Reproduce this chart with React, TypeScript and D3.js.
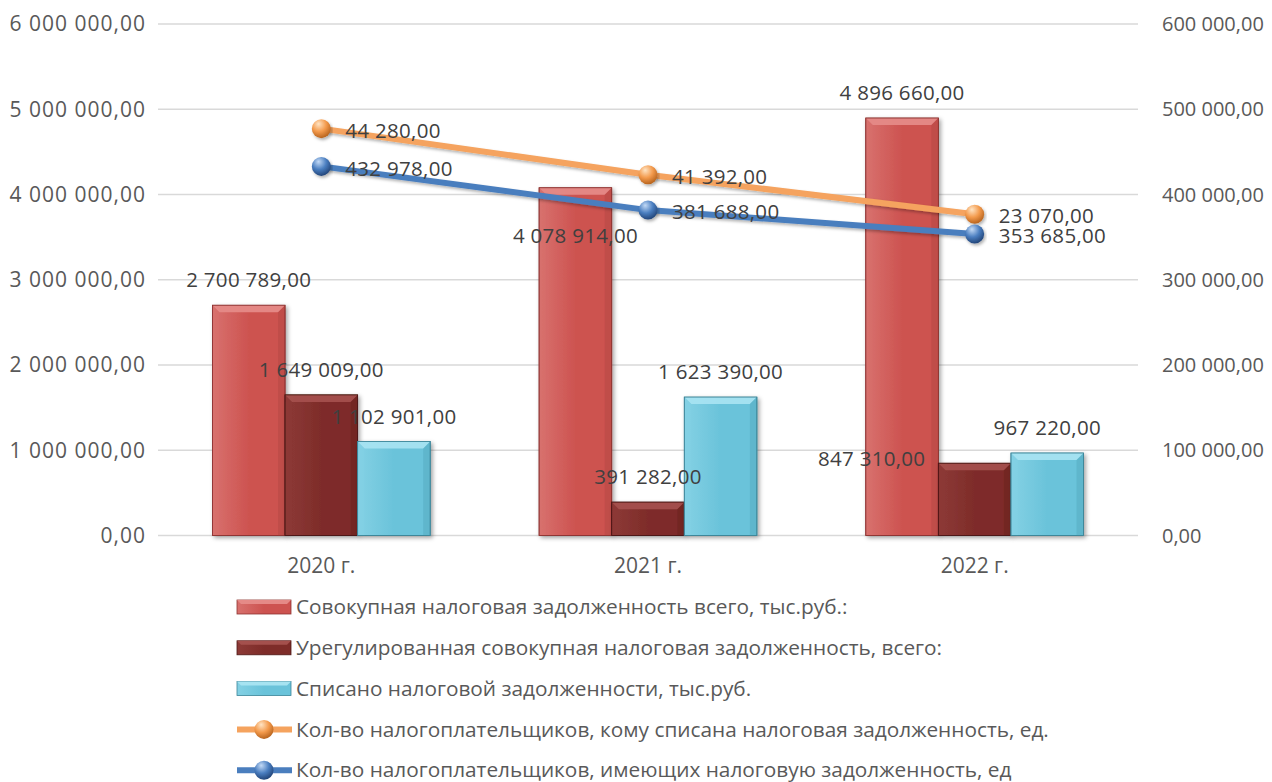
import React from 'react';
import * as d3 from 'd3';

const categories = ['2020 г.', '2021 г.', '2022 г.'];
const totalDebt = [2700789, 4078914, 4896660];
const settledDebt = [1649009, 391282, 847310];
const writtenOffDebt = [1102901, 1623390, 967220];
const taxpayersWithDebt = [432978, 381688, 353685];
const taxpayersWrittenOff = [44280, 41392, 23070];
const leftTicks = [0, 1000000, 2000000, 3000000, 4000000, 5000000, 6000000];
const rightTicks = [0, 100000, 200000, 300000, 400000, 500000, 600000];

const barNames = [
  'Совокупная налоговая задолженность всего, тыс.руб.:',
  'Урегулированная совокупная налоговая задолженность, всего:',
  'Списано налоговой задолженности, тыс.руб.',
];
const lineNames = [
  'Кол-во налогоплательщиков, кому списана налоговая задолженность, ед.',
  'Кол-во налогоплательщиков, имеющих налоговую задолженность, ед',
];

const W = 1272;
const H = 782;
const plot = { left: 158, right: 1138, top: 24, bottom: 535.5 };

const barStyles = [
  { id: 'red', top: '#E58A87', light: '#D8716E', base: '#CD5350', dark: '#A94340', stroke: '#8E3431' },
  { id: 'maroon', top: '#A4504D', light: '#8D3A37', base: '#7E2C29', dark: '#5E1D1B', stroke: '#4D1715' },
  { id: 'cyan', top: '#A6E3F1', light: '#84D1E4', base: '#6AC3DA', dark: '#4A9DB3', stroke: '#3C8598' },
];
const lineStyles = [
  { id: 'orange', color: '#F5A35E', hi: '#FFE4C4', base: '#F39A4C', dark: '#B8641E' },
  { id: 'blue', color: '#4A7EBE', hi: '#C3DAF6', base: '#4A7EC0', dark: '#23467A' },
];

// bar label offsets (dx, dy relative to default position above bar)
const barLabelShift: Record<string, [number, number]> = {
  '0-1': [0, 73],
  '1-2': [-103, 21],
};

const locale = d3.formatLocale({ decimal: ',', thousands: '\u00a0', grouping: [3], currency: ['', ''] });
const fmt = locale.format(',.2f');

const FONT = "'Open Sans', 'Noto Sans', sans-serif";

function Bar({ x, y, w, h, s }: any) {
  const b = Math.min(7, h / 2);
  return (
    <g filter="url(#shadow)">
      <rect x={x} y={y} width={w} height={h} fill={`url(#grad-${s.id})`} stroke={s.stroke} strokeWidth={0.8} />
      <polygon
        points={`${x},${y} ${x + w},${y} ${x + w - b},${y + b} ${x + b},${y + b}`}
        fill={s.top}
        opacity={0.95}
      />
      <polygon points={`${x},${y} ${x + b},${y + b} ${x + b},${y + h} ${x},${y + h}`} fill={s.light} opacity={0.35} />
      <polygon points={`${x + w},${y} ${x + w - b},${y + b} ${x + w - b},${y + h} ${x + w},${y + h}`} fill={s.dark} opacity={0.35} />
      <rect x={x} y={y} width={w} height={h} fill="none" stroke={s.stroke} strokeWidth={0.8} />
    </g>
  );
}

export default function App() {
  const x0 = d3.scaleBand<string>().domain(categories).range([plot.left, plot.right]).paddingInner(0).paddingOuter(0);
  const barKeys = ['total', 'settled', 'written'];
  const x1 = d3.scaleBand<string>().domain(barKeys).range([0, x0.bandwidth()]).paddingInner(0).paddingOuter(0.75);
  const yL = d3.scaleLinear().domain([0, 6000000]).range([plot.bottom, plot.top]);
  const yR = d3.scaleLinear().domain([0, 600000]).range([plot.bottom, plot.top]);

  const barSeries = [totalDebt, settledDebt, writtenOffDebt];

  const rows = categories.map((c, i) => ({ cat: c, debt: taxpayersWithDebt[i], wo: taxpayersWrittenOff[i] }));
  const stacked = d3.stack<any>().keys(['debt', 'wo'])(rows);
  const cx = (c: string) => (x0(c) as number) + x0.bandwidth() / 2;
  const lineGen = d3.line<any>().x((d) => cx(d.data.cat)).y((d) => yR(d[1]));
  const lineDefs = [
    { layer: stacked[1], style: lineStyles[0], labels: taxpayersWrittenOff },
    { layer: stacked[0], style: lineStyles[1], labels: taxpayersWithDebt },
  ];

  const legendRows = [
    { type: 'bar', s: barStyles[0], name: barNames[0] },
    { type: 'bar', s: barStyles[1], name: barNames[1] },
    { type: 'bar', s: barStyles[2], name: barNames[2] },
    { type: 'line', s: lineStyles[0], name: lineNames[0] },
    { type: 'line', s: lineStyles[1], name: lineNames[1] },
  ];

  return (
    <svg width={W} height={H} style={{ position: 'absolute', left: 0, top: 0, background: '#fff' }} fontFamily={FONT}>
      <defs>
        <filter id="shadow" x="-20%" y="-20%" width="150%" height="150%">
          <feDropShadow dx="2" dy="2" stdDeviation="2" floodColor="#000" floodOpacity="0.35" />
        </filter>
        <filter id="lshadow" x="-10%" y="-50%" width="120%" height="200%">
          <feDropShadow dx="1.5" dy="2" stdDeviation="1.5" floodColor="#000" floodOpacity="0.3" />
        </filter>
        {barStyles.map((s) => (
          <linearGradient key={s.id} id={`grad-${s.id}`} x1="0" y1="0" x2="1" y2="0">
            <stop offset="0" stopColor={s.light} />
            <stop offset="0.5" stopColor={s.base} />
            <stop offset="1" stopColor={s.base} />
          </linearGradient>
        ))}
        {lineStyles.map((s) => (
          <radialGradient key={s.id} id={`sph-${s.id}`} cx="0.4" cy="0.3" r="0.7" fx="0.35" fy="0.25">
            <stop offset="0" stopColor={s.hi} />
            <stop offset="0.55" stopColor={s.base} />
            <stop offset="1" stopColor={s.dark} />
          </radialGradient>
        ))}
      </defs>

      {/* gridlines */}
      {leftTicks.map((t) => (
        <line key={t} x1={plot.left} x2={plot.right} y1={yL(t)} y2={yL(t)} stroke="#D9D9D9" strokeWidth={1.3} />
      ))}

      {/* left axis labels */}
      {leftTicks.map((t) => (
        <text key={t} x={146} y={yL(t)} dy="0.35em" textAnchor="end" fontSize={21} letterSpacing={1} fill="#595959">
          {fmt(t)}
        </text>
      ))}
      {/* right axis labels */}
      {rightTicks.map((t) => (
        <text key={t} x={1162} y={yR(t)} dy="0.35em" textAnchor="start" fontSize={20} fill="#595959">
          {fmt(t)}
        </text>
      ))}

      {/* category labels */}
      {categories.map((c) => (
        <text key={c} x={cx(c)} y={566} dy="0.35em" textAnchor="middle" fontSize={21} fill="#595959">
          {c}
        </text>
      ))}

      {/* bars */}
      {categories.map((c, ci) =>
        barSeries.map((vals, si) => {
          const x = (x0(c) as number) + (x1(barKeys[si]) as number);
          const y = yL(vals[ci]);
          return <Bar key={`${ci}-${si}`} x={x} y={y} w={x1.bandwidth()} h={plot.bottom - y} s={barStyles[si]} />;
        })
      )}

      {/* lines */}
      {lineDefs.map((ld) => (
        <g key={ld.style.id}>
          <path d={lineGen(ld.layer as any) || ''} fill="none" stroke={ld.style.color} strokeWidth={6} strokeLinejoin="round" filter="url(#lshadow)" />
        </g>
      ))}
      {lineDefs.map((ld) => (
        <g key={ld.style.id + 'm'}>
          {ld.layer.map((d: any, i: number) => (
            <circle key={i} cx={cx(d.data.cat)} cy={yR(d[1])} r={9.5} fill={`url(#sph-${ld.style.id})`} filter="url(#lshadow)" />
          ))}
        </g>
      ))}

      {/* bar labels */}
      {categories.map((c, ci) =>
        barSeries.map((vals, si) => {
          const shift = barLabelShift[`${si}-${ci}`] || [0, 0];
          const x = (x0(c) as number) + (x1(barKeys[si]) as number) + x1.bandwidth() / 2 + shift[0];
          const y = yL(vals[ci]) - 25 + shift[1];
          return (
            <text key={`l${ci}-${si}`} x={x} y={y} dy="0.35em" textAnchor="middle" fontSize={20.5} letterSpacing={0.3} fill="#404040">
              {fmt(vals[ci])}
            </text>
          );
        })
      )}

      {/* line labels */}
      {lineDefs.map((ld) =>
        ld.layer.map((d: any, i: number) => (
          <text key={ld.style.id + 't' + i} x={cx(d.data.cat) + 24} y={yR(d[1]) + 2} dy="0.35em" textAnchor="start" fontSize={20.5} letterSpacing={0.3} fill="#404040">
            {fmt(ld.labels[i])}
          </text>
        ))
      )}

      {/* legend */}
      {legendRows.map((r, i) => {
        const yc = 607 + i * 40.8;
        return (
          <g key={i}>
            {r.type === 'bar' ? (
              <g>
                <rect x={237} y={yc - 7} width={54} height={14} fill={`url(#grad-${(r.s as any).id})`} stroke={(r.s as any).stroke} strokeWidth={0.8} />
                <polygon points={`237,${yc - 7} 291,${yc - 7} 287,${yc - 3} 241,${yc - 3}`} fill={(r.s as any).top} />
              </g>
            ) : (
              <g>
                <line x1={237} x2={292} y1={yc} y2={yc} stroke={(r.s as any).color} strokeWidth={6} />
                <circle cx={264} cy={yc} r={9.5} fill={`url(#sph-${(r.s as any).id})`} />
              </g>
            )}
            <text x={296} y={yc} dy="0.35em" fontSize={20.8} fill="#595959">
              {r.name}
            </text>
          </g>
        );
      })}
    </svg>
  );
}
